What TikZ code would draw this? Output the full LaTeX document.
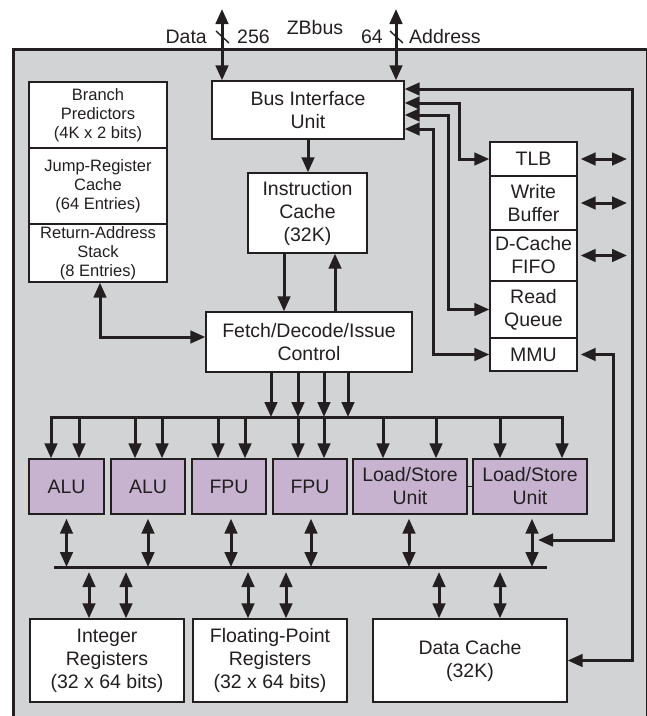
\documentclass[tikz,border=0pt]{standalone}
\usepackage{fontspec}
\setmainfont{Liberation Sans}
\usetikzlibrary{arrows.meta,positioning,calc}
\definecolor{chipgray}{RGB}{209,211,212}
\definecolor{unitpurple}{RGB}{199,179,208}
\definecolor{inkgray}{RGB}{35,31,32}

\begin{document}
\begin{tikzpicture}[x=1pt,y=-1pt,
  >={Triangle[length=15pt,width=12.5pt]},
  wire/.style={line width=3pt,draw=inkgray},
  blk/.style={draw=inkgray,line width=1.3pt,fill=white,inner sep=0pt,align=center,text=inkgray,font=\fontsize{19.5}{23}\selectfont},
  sblk/.style={blk,font=\fontsize{16.5}{19}\selectfont},
  unit/.style={blk,fill=unitpurple},
  lbl/.style={text=inkgray,inner sep=0pt,font=\fontsize{19.5}{22}\selectfont}]
\useasboundingbox (0,0) rectangle (647,716);
\fill[chipgray] (13,49) rectangle (647,716);
\draw[inkgray,line width=0.8pt] (646.5,49) -- (646.5,716);
\draw[inkgray,line width=3pt] (13,716) -- (13,49) -- (647,49);

\node[blk,minimum width=192pt,minimum height=58pt] (biu) at (308,110) {Bus Interface\\Unit};
\node[sblk,minimum width=138pt,minimum height=66pt] (bp) at (98,115) {Branch\\Predictors\\(4K x 2 bits)};
\node[sblk,minimum width=138pt,minimum height=76pt] (jrc) at (98,186) {Jump-Register\\Cache\\(64 Entries)};
\node[sblk,minimum width=138pt,minimum height=58pt] (ras) at (98,253) {Return-Address\\Stack\\(8 Entries)};
\node[blk,minimum width=119pt,minimum height=80pt] (ic) at (307.5,213) {Instruction\\Cache\\(32K)};
\node[blk,minimum width=206pt,minimum height=60pt] (fdi) at (309,342) {Fetch/Decode/Issue\\Control};

\node[blk,minimum width=87pt,minimum height=34pt] (tlb) at (533.5,159) {TLB};
\node[blk,minimum width=87pt,minimum height=54pt] (wb) at (533.5,203) {Write\\Buffer};
\node[blk,minimum width=87pt,minimum height=51pt] (dcf) at (533.5,255.5) {D-Cache\\FIFO};
\node[blk,minimum width=87pt,minimum height=57pt] (rq) at (533.5,309.5) {Read\\Queue};
\node[blk,minimum width=87pt,minimum height=33pt] (mmu) at (533.5,354.5) {MMU};

\node[unit,minimum width=75pt,minimum height=55pt] (alu1) at (66.5,486.5) {ALU};
\node[unit,minimum width=74pt,minimum height=55pt] (alu2) at (148,486.5) {ALU};
\node[unit,minimum width=74pt,minimum height=55pt] (fpu1) at (229,486.5) {FPU};
\node[unit,minimum width=74pt,minimum height=55pt] (fpu2) at (310,486.5) {FPU};
\node[unit,minimum width=114pt,minimum height=55pt] (ls1) at (410,486.5) {Load/Store\\Unit};
\node[unit,minimum width=114pt,minimum height=55pt] (ls2) at (530,486.5) {Load/Store\\Unit};

\node[blk,minimum width=154pt,minimum height=83pt] (intr) at (107,660.5) {Integer\\Registers\\(32 x 64 bits)};
\node[blk,minimum width=154pt,minimum height=83pt] (fpr) at (270,660.5) {Floating-Point\\Registers\\(32 x 64 bits)};
\node[blk,minimum width=194pt,minimum height=83pt] (dc) at (470,660.5) {Data Cache\\(32K)};

\node[lbl,anchor=east] (datalbl) at (207,37) {Data};
\node[lbl,anchor=west] (datawidth) at (237,37) {256};
\node[lbl] (zbus) at (315,28) {ZBbus};
\node[lbl,anchor=east] (addrwidth) at (383,37) {64};
\node[lbl,anchor=west] (addrlbl) at (409,37) {Address};

\coordinate (zbdata) at (222,9);
\coordinate (zbaddr) at (396,9);
\draw[wire,<->] (zbdata) -- (zbdata |- biu.north);
\draw[wire,<->] (zbaddr) -- (zbaddr |- biu.north);
\draw[inkgray,line width=1.4pt] (216,31) -- (229,43);
\draw[inkgray,line width=1.4pt] (390,31) -- (403,43);

\draw[wire,->] (biu.south) -- (biu.south |- ic.north);
\draw[wire,->] ([xshift=-23.5pt]ic.south) -- ([xshift=-23.5pt]ic.south |- fdi.north);
\draw[wire,->] ([xshift=27.5pt]ic.south |- fdi.north) -- ([xshift=27.5pt]ic.south);
\draw[wire,<->] ([xshift=2pt]ras.south) |- ([yshift=5pt]fdi.west);

\coordinate (rbus) at (632,89);
\draw[wire,<->] ([yshift=21pt]biu.east) -- (rbus) |- (dc.east);
\draw[wire,<->] ([yshift=7pt]biu.east) -| ([xshift=-30pt]tlb.west) -- (tlb.west);
\draw[wire,<->] ([yshift=-5pt]biu.east) -| ([xshift=-41pt]rq.west) -- (rq.west);
\draw[wire,<->] ([yshift=-19pt]biu.east) -| ([xshift=-56pt]mmu.west) -- (mmu.west);
\foreach \b in {tlb,wb,dcf} \draw[wire,<->] ([xshift=3pt]\b.east) -- ([xshift=-5pt]rbus |- \b.east);
\coordinate (mmuturn) at (613,540);
\draw[wire,<->] ([xshift=3pt]mmu.east) -| (mmuturn) -- ([xshift=8pt]ls2.south |- mmuturn);

\coordinate (ibusL) at (51,417);
\coordinate (ibusR) at (562,417);
\draw[wire,line cap=rect] (ibusL) -- (ibusR);
\foreach \dx in {-38,-11,15,39} \draw[wire,->] ([xshift=\dx pt]fdi.south) -- ([xshift=\dx pt]fdi.south |- ibusL);
\foreach \u/\a/\b in {alu1/-15.5/12.5,alu2/-13/14,fpu1/-11/16,fpu2/-12/14,ls1/-27/26,ls2/-30/32} {
  \draw[wire,->] ([xshift=\a pt]\u.north |- ibusL) -- ([xshift=\a pt]\u.north);
  \draw[wire,->] ([xshift=\b pt]\u.north |- ibusL) -- ([xshift=\b pt]\u.north);
}
\draw[inkgray,line width=1.8pt] (ls1.east) -- (ls2.west);

\coordinate (lbusL) at (54,567);
\coordinate (lbusR) at (547,567);
\draw[wire] (lbusL) -- (lbusR);
\foreach \u/\dx in {alu1/0,alu2/0,fpu1/2,fpu2/1,ls1/-1,ls2/2} \draw[wire,<->,shorten <=4pt] ([xshift=\dx pt]\u.south) -- ([xshift=\dx pt]\u.south |- lbusL);
\foreach \r/\dx in {intr/-18,intr/19,fpr/-22,fpr/16,dc/-31,dc/30} \draw[wire,<->,shorten <=5pt] ([xshift=\dx pt]\r.north |- lbusL) -- ([xshift=\dx pt]\r.north);
\end{tikzpicture}
\end{document}
